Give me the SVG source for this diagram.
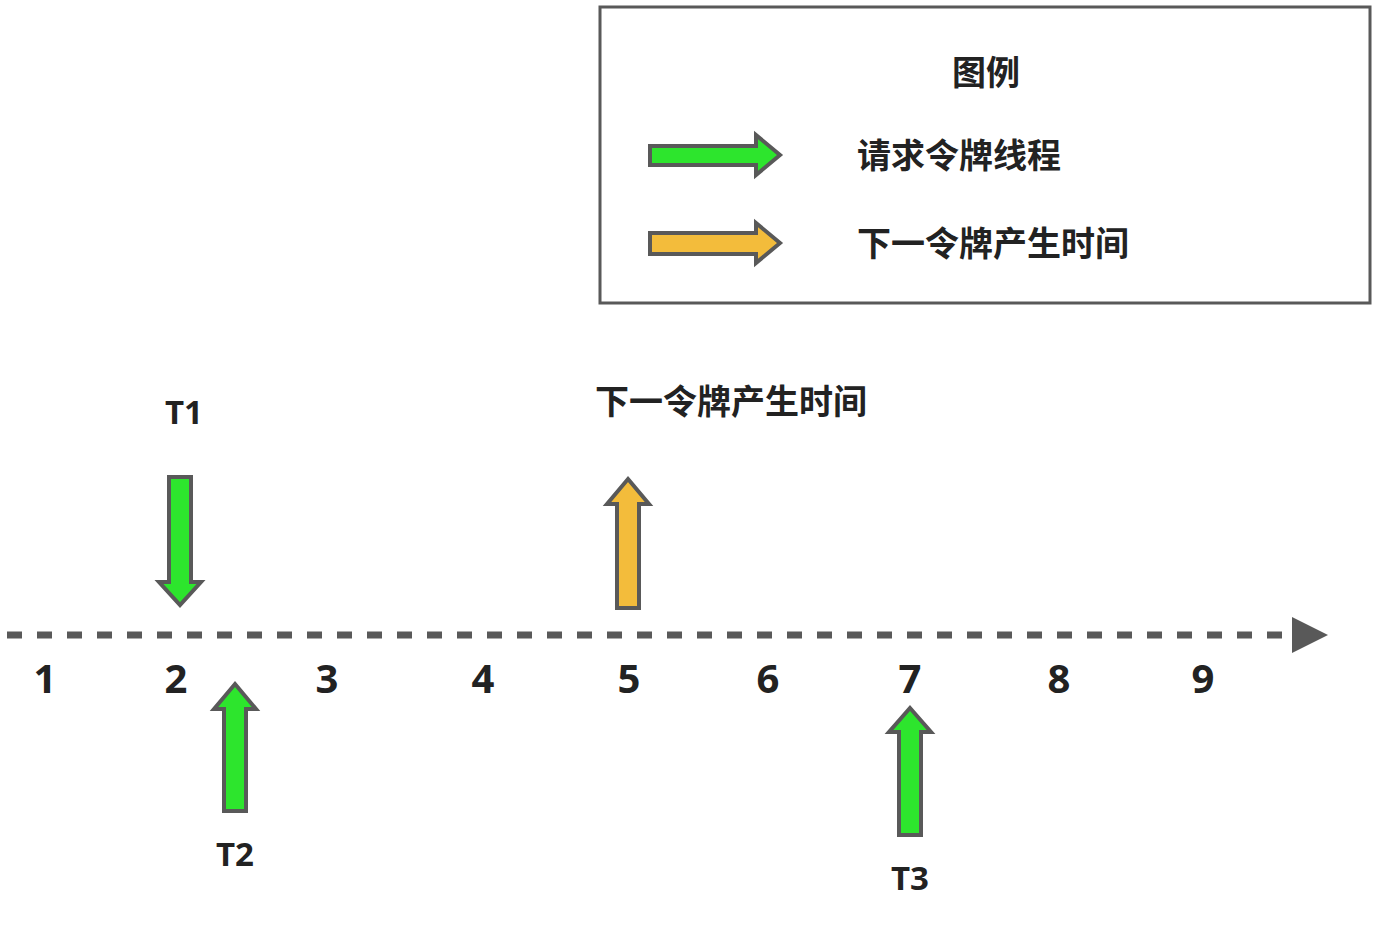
<svg xmlns="http://www.w3.org/2000/svg" width="1380" height="925" viewBox="0 0 1380 925">
<style>
.t{font-family:"Open Sans","Noto Sans CJK SC",sans-serif;font-weight:bold;fill:#222;}
.num{font-size:40px;text-anchor:middle;}
.lbl{font-size:33px;text-anchor:middle;}
.cjk{font-family:"Noto Sans CJK SC",sans-serif;font-size:34px;}
.g{fill:#2DE52D;stroke:#595959;stroke-width:4;stroke-linejoin:miter;}
.o{fill:#F3BC3B;stroke:#595959;stroke-width:4;stroke-linejoin:miter;}
</style>
<rect width="1380" height="925" fill="#fff"/>
<g id="legend">
<rect x="600" y="7" width="770" height="296" fill="none" stroke="#595959" stroke-width="3"/>
<text class="t cjk" x="952" y="85">图例</text>
<polygon class="g" points="650,146 756,146 756,135 780,155 756,175 756,165 650,165"/>
<text class="t cjk" x="857" y="168">请求令牌线程</text>
<polygon class="o" points="650,233 756,233 756,223 780,243 756,263 756,254 650,254"/>
<text class="t cjk" x="857" y="256">下一令牌产生时间</text>
</g>
<g id="connectors">
<line x1="7" y1="635" x2="1294" y2="635" stroke="#595959" stroke-width="7" stroke-dasharray="15 15"/>
<polygon points="1292,617 1328,635 1292,653" fill="#595959"/>
</g>
<g id="ticks">
<text class="t num" x="45" y="693">1</text>
<text class="t num" x="176" y="693">2</text>
<text class="t num" x="327" y="693">3</text>
<text class="t num" x="483" y="693">4</text>
<text class="t num" x="629" y="693">5</text>
<text class="t num" x="768" y="693">6</text>
<text class="t num" x="910" y="693">7</text>
<text class="t num" x="1059" y="693">8</text>
<text class="t num" x="1203" y="693">9</text>
</g>
<g id="t1">
<text class="t lbl" x="184" y="424">T1</text>
<polygon class="g" points="169,477 191,477 191,582 201,582 180,605 159,582 169,582"/>
</g>
<g id="next">
<text class="t cjk" x="595" y="414">下一令牌产生时间</text>
<polygon class="o" points="628,479 649,504 639,504 639,608 617,608 617,504 607,504"/>
</g>
<g id="t2">
<polygon class="g" points="235,684 256,709 246,709 246,811 224,811 224,709 214,709"/>
<text class="t lbl" x="235" y="866">T2</text>
</g>
<g id="t3">
<polygon class="g" points="910,708 931,732 921,732 921,835 899,835 899,732 889,732"/>
<text class="t lbl" x="910" y="890">T3</text>
</g>
</svg>
